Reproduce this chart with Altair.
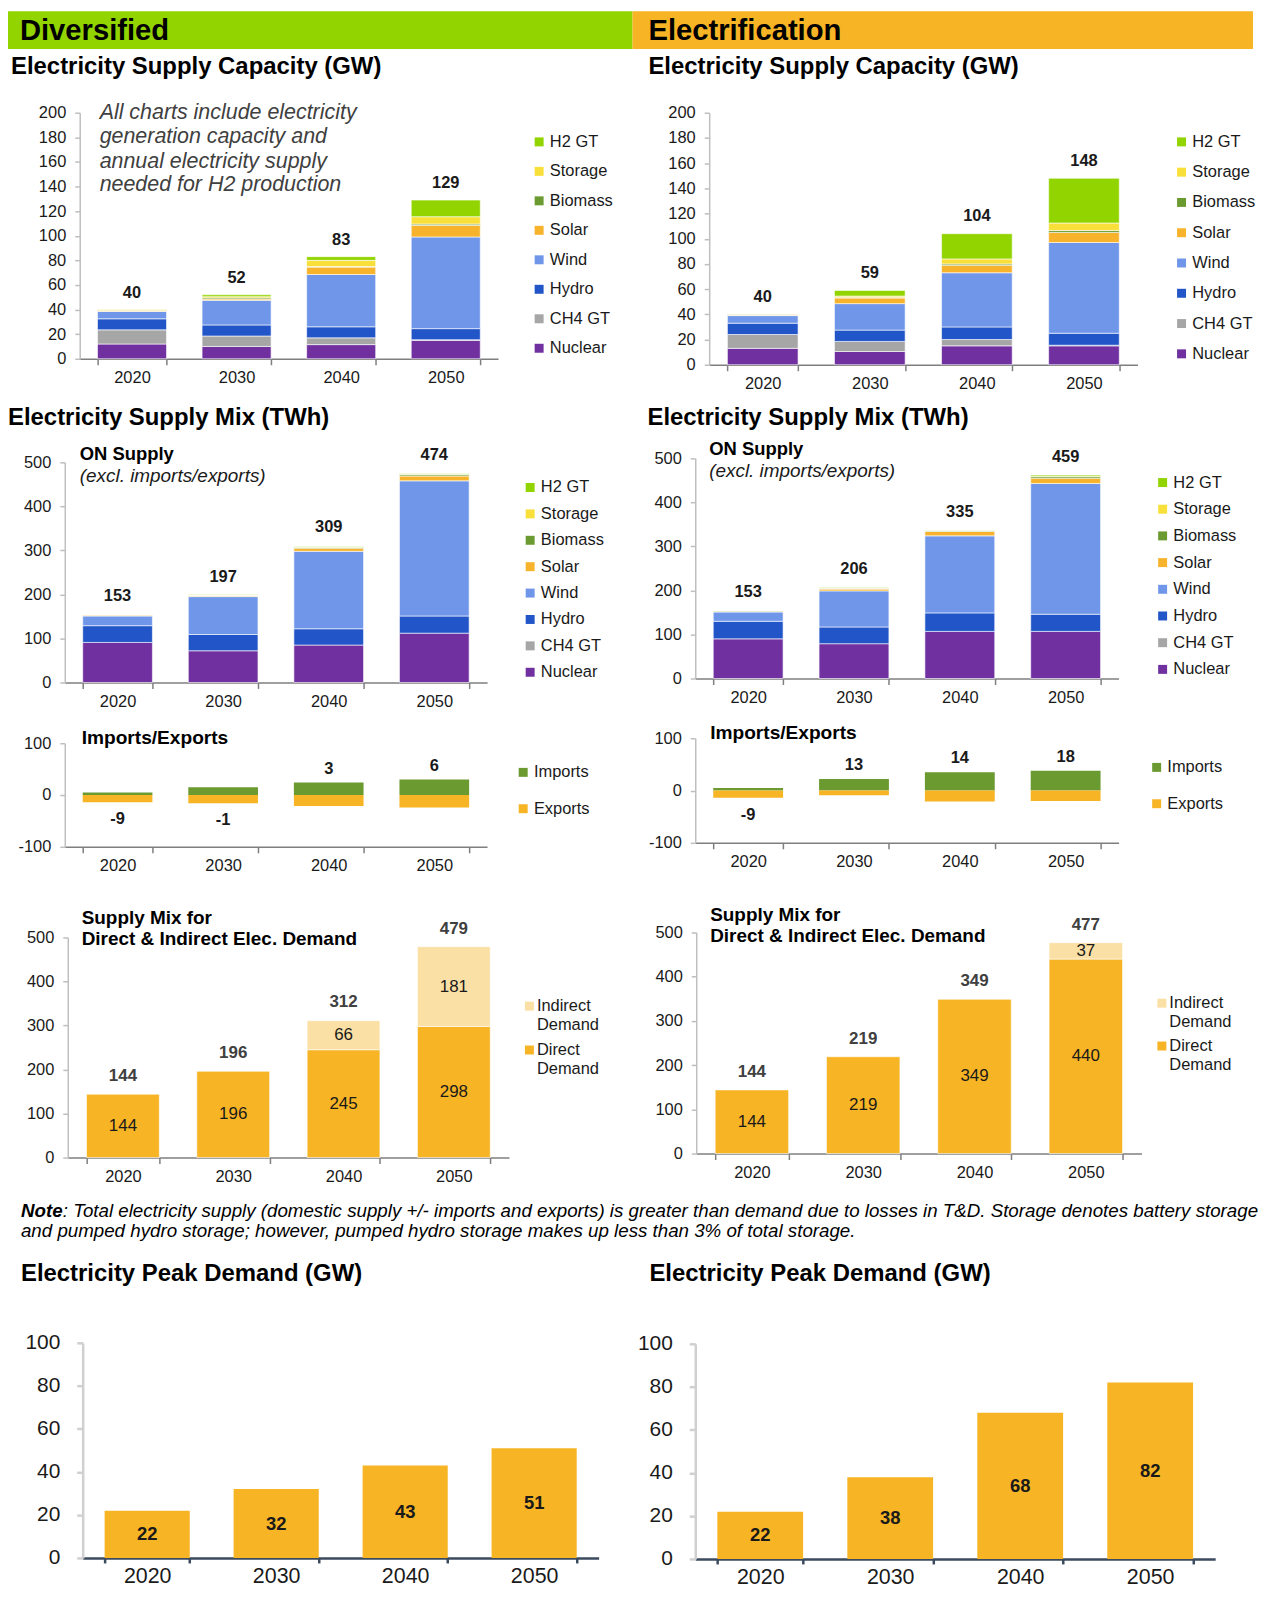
import altair as alt
import pandas as pd

FONT = "Liberation Sans, Arial, sans-serif"
INK = "#1A1A1A"

YEARS = ["2020", "2030", "2040", "2050"]

# stacking order, bottom -> top
TECHS = ["Nuclear", "CH4 GT", "Hydro", "Wind", "Solar", "Biomass", "Storage", "H2 GT"]
TECH_COLORS = ["#7030A0", "#A6A6A6", "#2255C8", "#6F96E9", "#F7B32B", "#6B9A31", "#F9DF3A", "#92D400"]

GREEN_HEAD = "#92D400"
ORANGE = "#F7B425"
OLIVE = "#6B9A31"
PEACH = "#FBE0A5"

# ---------------- Diversified: capacity (GW) ----------------
div_cap_nuclear = [12, 10, 11.5, 15]
div_cap_ch4 = [11.5, 8.5, 5.5, 0.5]
div_cap_hydro = [9, 9, 9, 9]
div_cap_wind = [6, 20, 42.5, 74.5]
div_cap_solar = [0.5, 1, 6, 9.5]
div_cap_biomass = [0.5, 1, 0.5, 1]
div_cap_storage = [0.5, 1, 5, 6]
div_cap_h2 = [0, 1.5, 3, 13.5]
div_cap_total = [40, 52, 83, 129]

# ---------------- Electrification: capacity (GW) ----------------
ele_cap_nuclear = [13, 10.5, 15, 15]
ele_cap_ch4 = [11, 8, 5, 0.5]
ele_cap_hydro = [9, 9, 10, 9.5]
ele_cap_wind = [6, 21, 43, 72]
ele_cap_solar = [0.5, 4.5, 6, 8]
ele_cap_biomass = [0.5, 0.5, 1, 1.5]
ele_cap_storage = [0.3, 1, 4, 6]
ele_cap_h2 = [0, 4.5, 20, 35.5]
ele_cap_total = [40, 59, 104, 148]

# ---------------- Diversified: supply mix (TWh) ----------------
div_sup_nuclear = [91, 72, 85, 112]
div_sup_ch4 = [0, 0, 0, 0]
div_sup_hydro = [38, 37, 37, 39]
div_sup_wind = [22, 86, 176, 307]
div_sup_solar = [2, 2, 7, 11]
div_sup_biomass = [0.5, 1, 2, 3]
div_sup_storage = [0, 0.5, 1, 1]
div_sup_h2 = [0, 0.5, 1, 1]
div_sup_total = [153, 197, 309, 474]

# ---------------- Electrification: supply mix (TWh) ----------------
ele_sup_nuclear = [90, 79, 107, 107]
ele_sup_ch4 = [0, 0, 0, 0]
ele_sup_hydro = [40, 38, 42, 39]
ele_sup_wind = [21, 82, 175, 297]
ele_sup_solar = [2, 4, 10, 12]
ele_sup_biomass = [0.5, 2, 1.5, 3.5]
ele_sup_storage = [0, 0.5, 0.5, 1]
ele_sup_h2 = [0, 1, 1, 2.5]
ele_sup_total = [153, 206, 335, 459]

# ---------------- Imports / Exports (TWh) ----------------
div_imports = [5, 15, 24, 30]
div_exports = [-14, -16, -21, -24]
div_net = [-9, -1, 3, 6]
ele_imports = [5, 22, 35, 38]
ele_exports = [-14, -9, -21, -20]
ele_net = [-9, 13, 14, 18]

# ---------------- Direct / Indirect demand (TWh) ----------------
div_direct = [144, 196, 245, 298]
div_indirect = [0, 0, 66, 181]
div_dem_total = [144, 196, 312, 479]
ele_direct = [144, 219, 349, 440]
ele_indirect = [0, 0, 0, 37]
ele_dem_total = [144, 219, 349, 477]

# ---------------- Peak demand (GW) ----------------
div_peak = [22, 32, 43, 51]
ele_peak = [22, 38, 68, 82]

NOTE_1 = (": Total electricity supply (domestic supply +/- imports and exports) is greater than "
          "demand due to losses in T&D. Storage denotes battery storage")
NOTE_2 = "and pumped hydro storage; however, pumped hydro storage makes up less than 3% of total storage."


# ---------------- helpers ----------------
def txt(s, x, y, size, weight="normal", style="normal", color=INK, align="left"):
    return alt.Chart(pd.DataFrame({"t": [s]})).mark_text(
        align=align, baseline="middle", fontSize=size, fontWeight=weight,
        fontStyle=style, color=color, font=FONT
    ).encode(text="t:N", x=alt.value(x), y=alt.value(y))


def band(x, x2, y, y2, color):
    return alt.Chart(pd.DataFrame({"a": [0]})).mark_rect(color=color).encode(
        x=alt.value(x), x2=alt.value(x2), y=alt.value(y), y2=alt.value(y2))


def swatch(x, y, color):
    return alt.Chart(pd.DataFrame({"a": [0]})).mark_square(size=81, color=color, opacity=1).encode(
        x=alt.value(x), y=alt.value(y))


def x_enc(rng, off, size=16.5, pad=5, dcolor="#7F7F7F", dwidth=1.5, tick=6):
    return alt.X("year:N", title=None, sort=YEARS,
                 scale=alt.Scale(domain=YEARS, range=rng, paddingInner=0.34, paddingOuter=0.17),
                 axis=alt.Axis(offset=off, tickBand="extent", labelAngle=0, labelFontSize=size,
                               labelFont=FONT, labelColor=INK, labelPadding=pad,
                               domainColor=dcolor, domainWidth=dwidth, tickColor=dcolor,
                               tickWidth=dwidth, tickSize=tick, grid=False, title=None))


def y_enc(field, dom, rng, off, vals, stack, size=16.5, pad=9, dcolor="#BFBFBF", dwidth=1.5,
          tick=5, hyphen=False):
    ax = dict(offset=off, values=vals, labelFontSize=size, labelFont=FONT, labelColor=INK,
              labelPadding=pad, domainColor=dcolor, domainWidth=dwidth, tickColor=dcolor,
              tickWidth=dwidth, tickSize=tick, grid=False, title=None)
    if hyphen:
        ax["labelExpr"] = "'' + datum.value"
    return alt.Y(field, title=None, stack=stack,
                 scale=alt.Scale(domain=dom, range=rng, nice=False, zero=False),
                 axis=alt.Axis(**ax))


def legend(lx, ly, rp):
    return alt.Legend(orient="none", legendX=lx, legendY=ly, title=None,
                      symbolType="square", symbolSize=81, symbolStrokeWidth=0, symbolOpacity=1,
                      labelFontSize=16.5, labelFont=FONT, labelColor=INK,
                      rowPadding=rp, labelOffset=2.5, padding=0)


def stack_cell(lists, totals, W, H, xr, yr, xoff, yoff, ydom, yvals, lx, ly, rp, dy, extra):
    rows = []
    for ti, (tech, vals) in enumerate(zip(TECHS, lists)):
        for yy, v in zip(YEARS, vals):
            rows.append({"year": yy, "tech": tech, "value": v, "idx": ti})
    df = pd.DataFrame(rows)
    X = x_enc(xr, xoff)
    bars = alt.Chart(df).transform_filter("datum.value > 0").mark_bar(
        stroke="#FFFFFF", strokeWidth=0.6).encode(
        x=X,
        y=y_enc("value:Q", ydom, yr, yoff, yvals, "zero"),
        color=alt.Color("tech:N",
                        scale=alt.Scale(domain=TECHS[::-1], range=TECH_COLORS[::-1]),
                        legend=legend(lx, ly, rp)),
        order=alt.Order("idx:Q", sort="ascending"),
    )
    tot = alt.Chart(pd.DataFrame({"year": YEARS, "total": totals})).mark_text(
        fontSize=16.5, fontWeight="bold", color=INK, dy=dy, baseline="middle", font=FONT
    ).encode(x=X, y=y_enc("total:Q", ydom, yr, yoff, yvals, None), text="total:Q")
    return alt.layer(*extra, bars, tot).properties(width=W, height=H)


def imp_cell(imports, exports, net, W, H, xr, yr, xoff, yoff, lx, ly, rp, extra):
    df = pd.DataFrame({"year": YEARS * 2, "kind": ["Imports"] * 4 + ["Exports"] * 4,
                       "value": imports + exports})
    X = x_enc(xr, xoff)

    def Y(f):
        return y_enc(f, [-100, 100], yr, yoff, [-100, 0, 100], None, hyphen=True)

    bars = alt.Chart(df).mark_bar().encode(
        x=X, y=Y("value:Q"),
        color=alt.Color("kind:N", scale=alt.Scale(domain=["Imports", "Exports"], range=[OLIVE, ORANGE]),
                        legend=legend(lx, ly, rp)))
    lab = pd.DataFrame({"year": YEARS, "net": net, "lbl": [str(v) for v in net],
                        "imp": imports, "exp": exports})
    pos = alt.Chart(lab).transform_filter("datum.net > 0").mark_text(
        fontSize=16.5, fontWeight="bold", color=INK, dy=-14, font=FONT).encode(
        x=X, y=Y("imp:Q"), text="lbl:N")
    neg = alt.Chart(lab).transform_filter("datum.net < 0").mark_text(
        fontSize=16.5, fontWeight="bold", color=INK, dy=17, font=FONT).encode(
        x=X, y=Y("exp:Q"), text="lbl:N")
    return alt.layer(*extra, bars, pos, neg).properties(width=W, height=H)


def dem_cell(direct, indirect, totals, W, H, xr, yr, xoff, yoff, lx, ly1, ly2, extra):
    df = pd.DataFrame({
        "year": YEARS * 2,
        "kind": ["Direct Demand"] * 4 + ["Indirect Demand"] * 4,
        "value": direct + indirect,
        "idx": [0] * 4 + [1] * 4,
        "mid": [d / 2 for d in direct] + [d + i / 2 for d, i in zip(direct, indirect)],
    })
    X = x_enc(xr, xoff)

    def Y(f, st):
        return y_enc(f, [0, 500], yr, yoff, [0, 100, 200, 300, 400, 500], st)

    bars = alt.Chart(df).transform_filter("datum.value > 0").mark_bar(
        stroke="#FFFFFF", strokeWidth=0.6).encode(
        x=X, y=Y("value:Q", "zero"),
        color=alt.Color("kind:N", scale=alt.Scale(domain=["Indirect Demand", "Direct Demand"],
                                                  range=[PEACH, ORANGE]), legend=None),
        order=alt.Order("idx:Q", sort="ascending"))
    inner = alt.Chart(df).transform_filter("datum.value > 0").mark_text(
        fontSize=17, color=INK, baseline="middle", font=FONT).encode(
        x=X, y=Y("mid:Q", None), text="value:Q")
    tot = alt.Chart(pd.DataFrame({"year": YEARS, "total": totals})).mark_text(
        fontSize=17, fontWeight="bold", color="#404040", dy=-18, baseline="middle", font=FONT
    ).encode(x=X, y=Y("total:Q", None), text="total:Q")
    leg = [
        swatch(lx + 4.5, ly1, PEACH), txt("Indirect", lx + 12, ly1, 16.5), txt("Demand", lx + 12, ly1 + 19, 16.5),
        swatch(lx + 4.5, ly2, ORANGE), txt("Direct", lx + 12, ly2, 16.5), txt("Demand", lx + 12, ly2 + 19, 16.5),
    ]
    return alt.layer(*extra, bars, inner, tot, *leg).properties(width=W, height=H)


def peak_cell(vals, W, H, xr, yr, xoff, yoff, extra):
    df = pd.DataFrame({"year": YEARS, "value": vals, "mid": [v / 2 for v in vals]})
    X = x_enc(xr, xoff, size=21.5, pad=3, dcolor="#3B4A5E", dwidth=2.5, tick=5)

    def Y(f):
        return y_enc(f, [0, 100], yr, yoff, [0, 20, 40, 60, 80, 100], None, size=21, pad=17,
                     dcolor="#D0D0D0", dwidth=2.5, tick=6)

    bars = alt.Chart(df).mark_bar(color=ORANGE).encode(x=X, y=Y("value:Q"))
    inner = alt.Chart(df).mark_text(fontSize=18.5, fontWeight="bold", color=INK, baseline="middle",
                                    font=FONT).encode(x=X, y=Y("mid:Q"), text="value:Q")
    return alt.layer(*extra, bars, inner).properties(width=W, height=H)


WL, WR = 627, 623
H1, H2, H3, H4, H5 = 387, 317, 168, 315, 397

CAP_VALS = list(range(0, 201, 20))
SUP_VALS = [0, 100, 200, 300, 400, 500]
TITLE = 24

L1 = stack_cell(
    [div_cap_nuclear, div_cap_ch4, div_cap_hydro, div_cap_wind, div_cap_solar, div_cap_biomass,
     div_cap_storage, div_cap_h2], div_cap_total,
    WL, H1, [72, 492], [349, 102], -38, -72, [0, 200], CAP_VALS, 525, 123, 12.6, -17,
    [band(0, WL, 0, 38, GREEN_HEAD),
     txt("Diversified", 12, 20, 29.3, weight="bold", color="#000000"),
     txt("Electricity Supply Capacity (GW)", 3, 56, TITLE, weight="bold", color="#000000"),
     txt("All charts include electricity", 92, 102, 21.5, style="italic", color="#404040"),
     txt("generation capacity and", 92, 126, 21.5, style="italic", color="#404040"),
     txt("annual electricity supply", 92, 151, 21.5, style="italic", color="#404040"),
     txt("needed for H2 production", 92, 175, 21.5, style="italic", color="#404040")])

R1 = stack_cell(
    [ele_cap_nuclear, ele_cap_ch4, ele_cap_hydro, ele_cap_wind, ele_cap_solar, ele_cap_biomass,
     ele_cap_storage, ele_cap_h2], ele_cap_total,
    WR, H1, [77, 507], [355, 102], -32, -77, [0, 200], CAP_VALS, 543, 123, 13.4, -17.5,
    [band(0, WR, 0, 38, ORANGE),
     txt("Electrification", 16, 20, 29.3, weight="bold", color="#000000"),
     txt("Electricity Supply Capacity (GW)", 16, 56, TITLE, weight="bold", color="#000000")])

L2 = stack_cell(
    [div_sup_nuclear, div_sup_ch4, div_sup_hydro, div_sup_wind, div_sup_solar, div_sup_biomass,
     div_sup_storage, div_sup_h2], div_sup_total,
    WL, H2, [57, 481], [287, 66], -30, -57, [0, 500], SUP_VALS, 516, 83, 9.5, -19,
    [txt("Electricity Supply Mix (TWh)", 0, 22, TITLE, weight="bold", color="#000000"),
     txt("ON Supply", 72, 58, 18.5, weight="bold", color="#000000"),
     txt("(excl. imports/exports)", 72, 80, 19, style="italic", color="#1A1A1A")])

R2 = stack_cell(
    [ele_sup_nuclear, ele_sup_ch4, ele_sup_hydro, ele_sup_wind, ele_sup_solar, ele_sup_biomass,
     ele_sup_storage, ele_sup_h2], ele_sup_total,
    WR, H2, [63, 488], [283, 62], -34, -63, [0, 500], SUP_VALS, 524, 78, 9.8, -19,
    [txt("Electricity Supply Mix (TWh)", 15, 21, TITLE, weight="bold", color="#000000"),
     txt("ON Supply", 77, 53, 18.5, weight="bold", color="#000000"),
     txt("(excl. imports/exports)", 77, 75, 19, style="italic", color="#1A1A1A")])

L3 = imp_cell(div_imports, div_exports, div_net, WL, H3, [57, 481], [135, 31], -33, -57, 509, 52, 19.5,
              [txt("Imports/Exports", 74, 26, 19.2, weight="bold", color="#000000")])

R3 = imp_cell(ele_imports, ele_exports, ele_net, WR, H3, [63, 488], [131, 26], -37, -63, 518, 47, 19.5,
              [txt("Imports/Exports", 78, 21, 19.2, weight="bold", color="#000000")])

L4 = dem_cell(div_direct, div_indirect, div_dem_total, WL, H4, [60, 503], [279, 58], -36, -60, 519, 127, 171,
              [txt("Supply Mix for", 74, 38, 19, weight="bold", color="#000000"),
               txt("Direct & Indirect Elec. Demand", 74, 60, 19, weight="bold", color="#000000")])

R4 = dem_cell(ele_direct, ele_indirect, ele_dem_total, WR, H4, [64, 511], [275, 53], -40, -64, 527, 124, 167,
              [txt("Supply Mix for", 78, 35, 19, weight="bold", color="#000000"),
               txt("Direct & Indirect Elec. Demand", 78, 57, 19, weight="bold", color="#000000")])

L5 = peak_cell(div_peak, WL, H5, [75, 593], [366, 150], -31, -75,
               [txt("Note", 13, 18, 18.8, weight="bold", style="italic", color="#000000"),
                txt(NOTE_1, 55, 18, 18.8, style="italic", color="#000000"),
                txt(NOTE_2, 13, 38, 18.8, style="italic", color="#000000"),
                txt("Electricity Peak Demand (GW)", 13, 81, TITLE, weight="bold", color="#000000")])

R5 = peak_cell(ele_peak, WR, H5, [63, 585], [367, 151], -30, -63,
               [txt("Electricity Peak Demand (GW)", 17, 81, TITLE, weight="bold", color="#000000")])

chart = alt.concat(
    L1, R1, L2, R2, L3, R3, L4, R4, L5, R5,
    columns=2, spacing=0, bounds="flush"
).resolve_scale(
    color="independent", x="independent", y="independent"
).resolve_legend(
    color="independent"
).properties(
    padding={"left": 0, "top": 0, "right": 0, "bottom": 0}, background="white"
).configure(
    font=FONT
).configure_view(
    strokeWidth=0, stroke="transparent"
)

chart.save("out.html", embed_options={"renderer": "svg", "actions": False})
